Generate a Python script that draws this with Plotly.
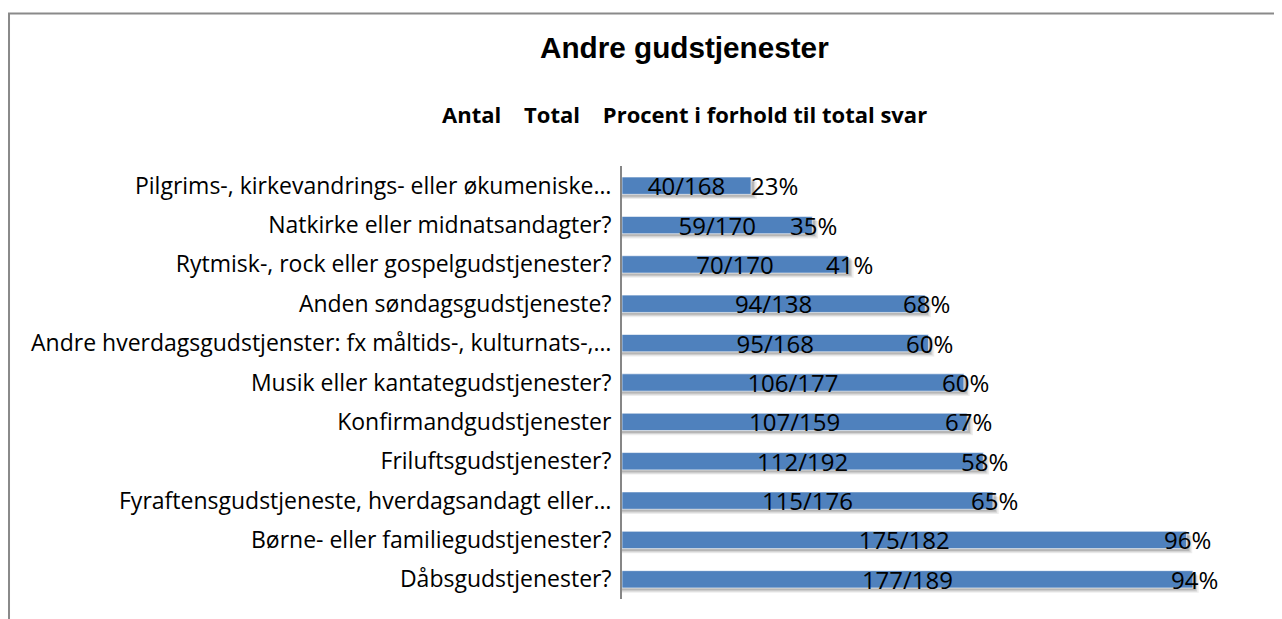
import plotly.graph_objects as go

categories = [
    "Pilgrims-, kirkevandrings- eller økumeniske…",
    "Natkirke eller midnatsandagter?",
    "Rytmisk-, rock eller gospelgudstjenester?",
    "Anden søndagsgudstjeneste?",
    "Andre hverdagsgudstjenster: fx måltids-, kulturnats-,…",
    "Musik eller kantategudstjenester?",
    "Konfirmandgudstjenester",
    "Friluftsgudstjenester?",
    "Fyraftensgudstjeneste, hverdagsandagt eller…",
    "Børne- eller familiegudstjenester?",
    "Dåbsgudstjenester?",
]
antal = [40, 59, 70, 94, 95, 106, 107, 112, 115, 175, 177]
total = [168, 170, 170, 138, 168, 177, 159, 192, 176, 182, 189]
procent = ["23%", "35%", "41%", "68%", "60%", "60%", "67%", "58%", "65%", "96%", "94%"]

title = "Andre gudstjenester"
subtitle = "Antal\u00a0\u00a0\u00a0\u00a0Total\u00a0\u00a0\u00a0\u00a0Procent i forhold til total svar"

BAR = "#4F81BD"
LBL_FONT = "Open Sans"

fig = go.Figure()

# soft layered shadow under bars
for off, extra, alpha in [(-0.10, 1.8, 0.07), (-0.13, 1.3, 0.10), (-0.16, 0.9, 0.14)]:
    fig.add_trace(go.Bar(
        y=categories, x=[a + extra for a in antal], orientation="h",
        width=0.44, offset=off,
        marker=dict(color=f"rgba(0,0,0,{alpha})", line=dict(width=0)),
        hoverinfo="skip", showlegend=False,
    ))
fig.add_trace(go.Bar(
    y=categories, x=antal, orientation="h",
    width=0.44,
    marker=dict(color=BAR, line=dict(color="rgba(255,255,255,0.6)", width=1)),
    text=[f"{a}/{t}" for a, t in zip(antal, total)],
    textposition="inside", insidetextanchor="middle", constraintext="none",
    textfont=dict(family=LBL_FONT, size=24, color="black"),
    showlegend=False,
))

for c, a, p in zip(categories, antal, procent):
    fig.add_annotation(
        x=a, y=c, text=p, showarrow=False, xanchor="left",
        xshift=(-2 if a < 50 else -24),
        font=dict(family=LBL_FONT, size=24, color="black"),
    )

fig.add_annotation(xref="paper", yref="paper", x=0.1003, y=1.2748, text=f"<b>{title}</b>",
                   showarrow=False, xanchor="center", yanchor="middle",
                   font=dict(family="Liberation Sans", size=29.7, color="black"))
fig.add_annotation(xref="paper", yref="paper", x=0.1003, y=1.12, text=f"<b>{subtitle}</b>",
                   showarrow=False, xanchor="center", yanchor="middle",
                   font=dict(family=LBL_FONT, size=22, color="black"))

# outer frame
fig.add_shape(type="path", xref="paper", yref="paper",
              path="M -0.9761,-0.1 L -0.9761,1.3522 L 1.2,1.3522",
              line=dict(color="#8a8a8a", width=2))

fig.update_layout(
    width=1282, height=619,
    margin=dict(l=614, r=40, t=158, b=28),
    paper_bgcolor="white", plot_bgcolor="white",
    barmode="overlay", bargap=0.56,
    font=dict(family=LBL_FONT, size=23, color="black"),
    xaxis=dict(range=[0, 194.7], visible=False, showgrid=False, zeroline=False),
    yaxis=dict(autorange="reversed", showline=True, linecolor="#868686", linewidth=2,
               ticks="", ticklabelstandoff=4, showgrid=False,
               tickfont=dict(family=LBL_FONT, size=23, color="black")),
)

fig.write_html("out.html")
